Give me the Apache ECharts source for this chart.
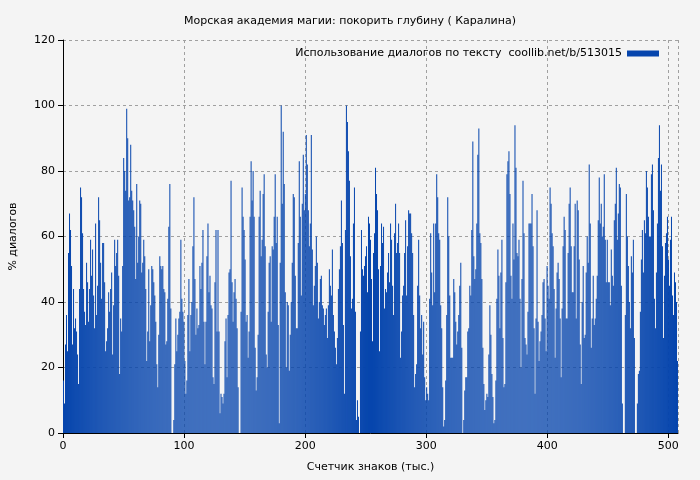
<html>
<head>
<meta charset="utf-8">
<title>Морская академия магии</title>
<script src="https://cdn.jsdelivr.net/npm/echarts@6/dist/echarts.min.js"></script>
<style>
  body { margin: 0; background: #f4f4f4; }
  #main { width: 700px; height: 480px; }
</style>
</head>
<body>
<div id="main"></div>
<script>
// % диалогов, читается слева направо по картинке
var part1 = [16,9,27,36,25,55,67,62,51,27,44,32,35,31,24,15,44,75,72,61,44,37,33,52,46,34,44,59,48,56,42,32,64,36,45,72,65,52,41,58,58,46,25,28,32,43,37,44,49,24,39,59,51,55,59,48,18,35,31,51,84,80,74,99,90,71,72,88,74,71,68,63,47,76,52,60,71,70,49]
var part2 = [52,59,54,44,22,31,50,28,39,51,50,46,42,34,21,14,30,54,51,50,51,44,43,27,28,41,63,76,38,0,0,4,21,35,25,30,35,37,59,41,37,34,22,12,16,36,47,25,36,40,57,72,47,30,38,32,33,51,44,52,62,34,21,34,54,64,43,48,39,38,17,15,46,62,31]
var part3 = [62,31,6,12,11,9,12,28,35,17,36,49,50,77,46,34,43,47,41,32,14,0,0,37,75,66,62,53,34,36,23,31,66,83,71,80,66,26,13,17,30,66,74,54,59,73,79,57,24,20,37,52,54,34,57,56,66,79,58,66,33,3,52,100,70,92,76,43,20,40,39,19,30,40,52,73,72,48,32,32]
var part4 = [58,83,66,42,70,85,68,73,91,82,68,57,64,91,56,39,45,51,60,52,35,40,47,48,39,38,33,36,38,29,39,50,45,42,56,36,31,26,21,29,44,50,57,71,58,33,12,62,100,95,86,77,54,38,41,64,75,37,4,10,5,0,31,62,50,48,51,54,57,43,66,64,59,47,28,55,61,81]
var part5 = [73,68,50,25,51,64,58,63,38,44,43,49,55,46,64,59,45,36,61,70,55,58,64,55,23,31,42,45,55,65,42,57,68,67,67,61,55,36,14,18,21,45,59,42,32,36,24,34,17,10,14,12,10,41,61,49,39,64,43,64,79,72,61,59,39,32,14,2,4,16,36,72,60,42,23,23,23]
var part6 = [47,43,34,27,31,36,45,52,26,0,4,13,17,17,31,32,45,42,62,89,54,47,50,64,85,93,61,58,47,26,15,7,10,12,11,24,39,30,18,11,3,4,16,41,56,48,32,49,59,29,14,15,46,79,83,86,73,48,41,64,53,94,81,55,54,59,41,20,47,77,61,29,27,24,37,64,64,64]
var part7 = [73,57,32,12,35,68,34,22,28,31,36,46,47,35,25,51,45,41,75,70,61,57,44,23,38,49,52,47,35,17,38,57,66,62,35,35,55,70,75,57,43,43,57,70,35,71,68,53,27,15,40,51,29,30,49,60,52,82,64,26,35,48,33,35,41,48,65,78,64,70,60,63,79,59,46,59,46,46]
var part8 = [39,56,48,45,65,70,81,59,67,76,75,45,9,0,0,36,73,60,51,40,32,54,49,59,29,0,0,9,18,19,37,53,62,49,65,61,80,75,66,60,60,79,82,68,41,32,49,64,84,94,74,82,57,29,48,58,61,66,53,45,59,66,42,36,49,46,40,22]

var values = [].concat(part1, part2, part3, part4, part5, part6, part7, part8)
var idx = values.map(function (v, i) { return i })

var xTicks = { min: 0, max: 508, interval: 100 }
var yTicks = { min: 0, max: 120, interval: 20 }

var chart = echarts.init(document.getElementById('main'))
var gridLine = { show: true, lineStyle: { color: '#a0a0a0', type: [3, 3], width: 1 } }
var font = 'DejaVu Sans'

chart.setOption({
  backgroundColor: '#f4f4f4',
  animation: false,
  textStyle: { fontFamily: font },
  title: {
    text: 'Морская академия магии: покорить глубину ( Каралина)',
    left: 'center', top: 11,
    textStyle: { fontSize: 11, fontWeight: 'normal', color: '#000', fontFamily: font }
  },
  legend: {
    right: 36, top: 43,
    align: 'right',
    icon: 'rect', itemWidth: 32, itemHeight: 6,
    textStyle: { fontSize: 11, color: '#000', fontFamily: font },
    data: ['Использование диалогов по тексту  coollib.net/b/513015']
  },
  grid: { left: 62, right: 22, top: 40, bottom: 47 },
  xAxis: [{
    type: 'category', data: idx, show: false, boundaryGap: true
  }, {
    type: 'value', min: xTicks.min, max: xTicks.max, interval: xTicks.interval,
    position: 'bottom',
    name: 'Счетчик знаков (тыс.)', nameLocation: 'middle', nameGap: 29,
    nameTextStyle: { fontSize: 11, color: '#000' },
    axisLine: { show: true, lineStyle: { color: '#000' } },
    axisTick: { show: true, inside: false, lineStyle: { color: '#000' } },
    axisLabel: { fontSize: 11, color: '#000', showMaxLabel: false },
    splitLine: gridLine
  }],
  yAxis: {
    type: 'value', min: yTicks.min, max: yTicks.max, interval: yTicks.interval,
    name: '% диалогов', nameLocation: 'middle', nameGap: 44,
    nameTextStyle: { fontSize: 11, color: '#000' },
    axisLine: { show: true, lineStyle: { color: '#000' } },
    axisTick: { show: true, lineStyle: { color: '#000' } },
    axisLabel: { fontSize: 11, color: '#000' },
    splitLine: gridLine
  },
  series: [{
    name: 'Использование диалогов по тексту  coollib.net/b/513015',
    type: 'bar', xAxisIndex: 0,
    data: values,
    barCategoryGap: '0%',
    itemStyle: { color: '#0645ad' },
    z: 3
  }]
})
</script>
</body>
</html>
